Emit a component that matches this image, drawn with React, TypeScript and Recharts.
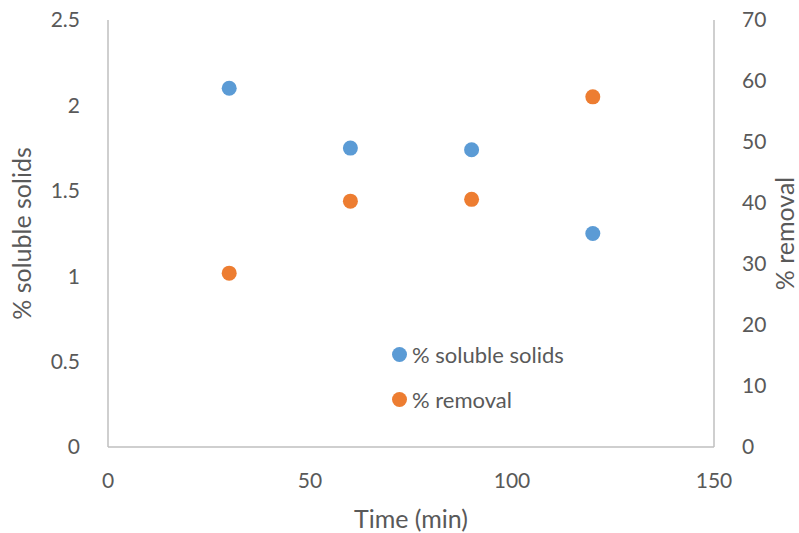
import { ScatterChart, Scatter, XAxis, YAxis } from 'recharts'

const times = [30, 60, 90, 120]
const solubleSolids = [2.1, 1.75, 1.74, 1.25]
const removal = [28.5, 40.3, 40.6, 57.4]

const xTicks = [0, 50, 100, 150]
const leftTicks = [0, 0.5, 1, 1.5, 2, 2.5]
const rightTicks = [0, 10, 20, 30, 40, 50, 60, 70]

const solidsData = times.map((t, i) => ({ time: t, value: solubleSolids[i] }))
const removalData = times.map((t, i) => ({ time: t, value: removal[i] }))

const FONT = 'Lato, "Open Sans", sans-serif'
const TEXT = '#595959'
const AXIS = '#bfbfbf'
const BLUE = '#5b9bd5'
const ORANGE = '#ed7d31'
const tickStyle = { fill: TEXT, fontSize: 21, fontFamily: FONT }

const legendItems = [
  { name: '% soluble solids', color: BLUE },
  { name: '% removal', color: ORANGE },
]

export default function App() {
  return (
    <div style={{ position: 'fixed', left: 0, top: 0, width: 799, height: 533, background: '#fff' }}>
      <ScatterChart width={799} height={533} margin={{ top: 20, right: 0, bottom: 0, left: 0 }}>
        <XAxis
          type="number"
          dataKey="time"
          domain={[0, 150]}
          ticks={xTicks}
          tickLine={false}
          axisLine={{ stroke: AXIS, strokeWidth: 1.5 }}
          tick={tickStyle}
          tickMargin={20}
          height={86}
          label={{ value: 'Time (min)', position: 'insideBottom', offset: 0, dy: -5, fill: TEXT, fontSize: 25, fontFamily: FONT }}
        />
        <YAxis
          yAxisId="left"
          type="number"
          dataKey="value"
          domain={[0, 2.5]}
          ticks={leftTicks}
          tickLine={false}
          axisLine={{ stroke: AXIS, strokeWidth: 1.5 }}
          tick={tickStyle}
          tickMargin={22}
          width={108}
          label={{ value: '% soluble solids', angle: -90, position: 'insideLeft', offset: 22, style: { textAnchor: 'middle' }, fill: TEXT, fontSize: 25, fontFamily: FONT }}
        />
        <YAxis
          yAxisId="right"
          orientation="right"
          type="number"
          dataKey="value"
          domain={[0, 70]}
          ticks={rightTicks}
          tickLine={false}
          axisLine={{ stroke: AXIS, strokeWidth: 1.5 }}
          tick={tickStyle}
          tickMargin={22}
          width={85}
          label={{ value: '% removal', angle: -90, position: 'insideRight', offset: 14, style: { textAnchor: 'middle' }, fill: TEXT, fontSize: 25, fontFamily: FONT }}
        />
        <Scatter name="% soluble solids" data={solidsData} yAxisId="left" fill={BLUE} shape={(p: any) => <circle cx={p.cx} cy={p.cy} r={7.5} fill={BLUE} />} isAnimationActive={false} />
        <Scatter name="% removal" data={removalData} yAxisId="right" fill={ORANGE} shape={(p: any) => <circle cx={p.cx} cy={p.cy} r={7.5} fill={ORANGE} />} isAnimationActive={false} />
      </ScatterChart>
      <div style={{ position: 'absolute', left: 392, top: 332, fontFamily: FONT, fontSize: 22, color: TEXT }}>
        {legendItems.map((it) => (
          <div key={it.name} style={{ display: 'flex', alignItems: 'center', height: 45 }}>
            <span style={{ width: 15, height: 15, borderRadius: '50%', background: it.color, marginRight: 5 }} />
            {it.name}
          </div>
        ))}
      </div>
    </div>
  )
}
